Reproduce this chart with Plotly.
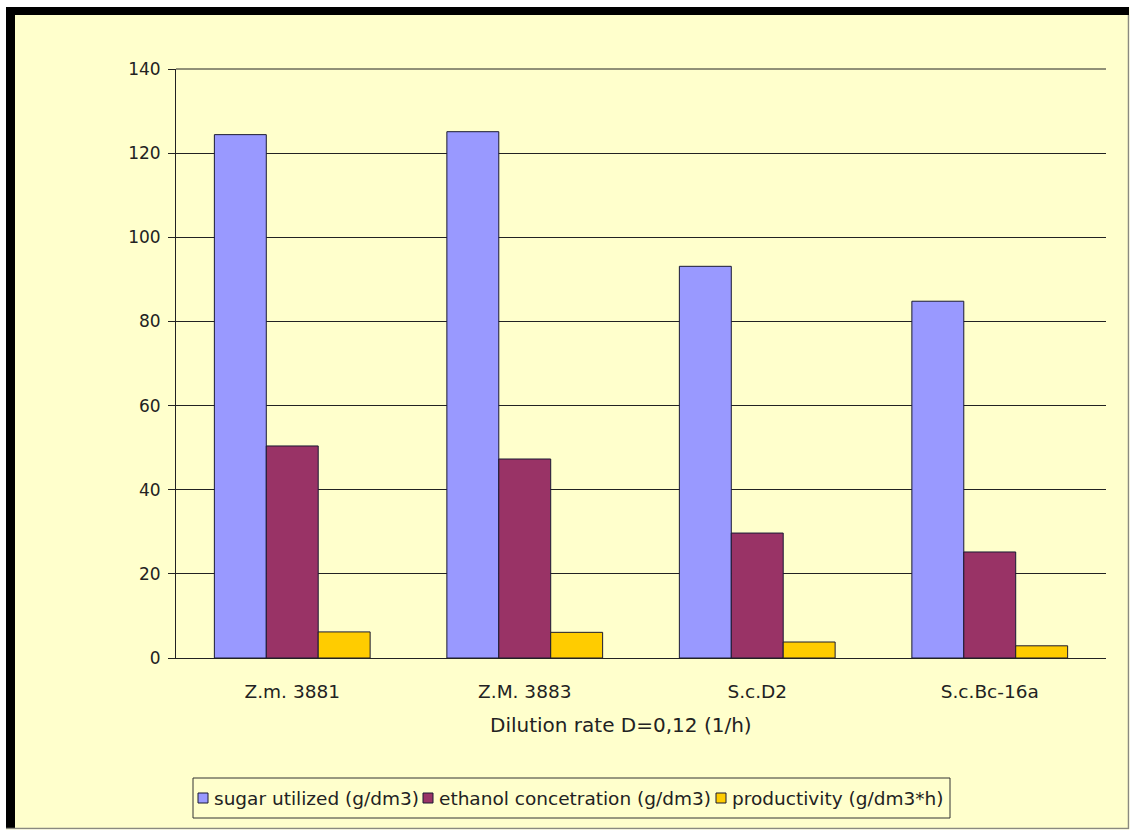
import plotly.graph_objects as go

# Strains tested at a dilution rate of 0.12 1/h
strains = ["Z.m. 3881", "Z.M. 3883", "S.c.D2", "S.c.Bc-16a"]
sugar_utilized = [124.4, 125.1, 93.1, 84.8]
ethanol_concentration = [50.4, 47.3, 29.7, 25.2]
productivity = [6.2, 6.1, 3.8, 2.9]
y_ticks = [0, 20, 40, 60, 80, 100, 120, 140]

series_names = ["sugar utilized (g/dm3)", "ethanol concetration (g/dm3)",
                "productivity (g/dm3*h)"]
series_colors = ["#9999FF", "#993366", "#FFCC00"]

BG = "#FFFFCC"
INK = "#222222"
FONT = "DejaVu Sans, Verdana, sans-serif"

# Plot area in pixels (figure is 1131 x 831)
W, H = 1131, 831
L, R, T, B = 176, 1106, 69, 658


def px(x):
    return (x - L) / (R - L)


def py(y):
    return (B - y) / (B - T)


fig = go.Figure()
for name, vals, color in zip(series_names,
                             [sugar_utilized, ethanol_concentration, productivity],
                             series_colors):
    fig.add_trace(go.Bar(
        x=strains, y=vals, name=name,
        marker=dict(color=color, line=dict(color="#1a1a33", width=1)),
    ))

# Outer frame: thick dark edge on top/left, thin grey edge on right/bottom
shapes = [
    dict(type="rect", xref="paper", yref="paper",
         x0=px(0), x1=px(W), y0=py(0), y1=py(7),
         fillcolor="white", line_width=0, layer="above"),
    dict(type="rect", xref="paper", yref="paper",
         x0=px(0), x1=px(6), y0=py(0), y1=py(H),
         fillcolor="white", line_width=0, layer="above"),
    dict(type="rect", xref="paper", yref="paper",
         x0=px(6), x1=px(1129), y0=py(7), y1=py(15),
         fillcolor="black", line_width=0, layer="above"),
    dict(type="rect", xref="paper", yref="paper",
         x0=px(6), x1=px(15), y0=py(7), y1=py(829),
         fillcolor="black", line_width=0, layer="above"),
    dict(type="line", xref="paper", yref="paper",
         x0=px(1128.5), x1=px(1128.5), y0=py(15), y1=py(829),
         line=dict(color="#8a8a80", width=1.5), layer="above"),
    dict(type="line", xref="paper", yref="paper",
         x0=px(6), x1=px(1129), y0=py(828.5), y1=py(828.5),
         line=dict(color="#8a8a80", width=1.5), layer="above"),
    dict(type="rect", xref="paper", yref="paper",
         x0=px(1129.5), x1=px(W), y0=py(0), y1=py(H),
         fillcolor="white", line_width=0, layer="above"),
    dict(type="rect", xref="paper", yref="paper",
         x0=px(0), x1=px(W), y0=py(829.5), y1=py(H),
         fillcolor="white", line_width=0, layer="above"),
    # top border of the plot area (140 gridline)
    dict(type="line", xref="paper", yref="paper", x0=0, x1=1, y0=1, y1=1,
         line=dict(color=INK, width=1)),
]

annotations = [dict(
    text="Dilution rate D=0,12 (1/h)", xref="paper", yref="paper",
    x=px(621), y=py(725), xanchor="center", yanchor="middle",
    showarrow=False, font=dict(family=FONT, size=20, color=INK),
)]

# Legend box below the chart, with small colour keys
legend_top, legend_bottom = 778, 818
legend_left, legend_right = 193, 950
shapes.append(dict(type="rect", xref="paper", yref="paper",
                   x0=px(legend_left), x1=px(legend_right),
                   y0=py(legend_bottom), y1=py(legend_top),
                   fillcolor=BG, line=dict(color="#333333", width=1)))
key_x = [198, 423, 716]
text_x = [212, 437, 730]
key_mid = 798
for kx, tx, name, color in zip(key_x, text_x, series_names, series_colors):
    shapes.append(dict(type="rect", xref="paper", yref="paper",
                       x0=px(kx), x1=px(kx + 10),
                       y0=py(key_mid + 5), y1=py(key_mid - 5),
                       fillcolor=color, line=dict(color="#1a1a33", width=1)))
    annotations.append(dict(
        text=name, xref="paper", yref="paper", x=px(tx), y=py(key_mid),
        xanchor="left", yanchor="middle", showarrow=False,
        font=dict(family=FONT, size=18.5, color=INK),
    ))

fig.update_layout(
    width=W, height=H,
    margin=dict(l=L, r=W - R, t=T, b=H - B, pad=0),
    paper_bgcolor=BG, plot_bgcolor=BG,
    font=dict(family=FONT, size=15, color=INK),
    barmode="group", bargap=0.33, bargroupgap=0,
    showlegend=False,
    shapes=shapes,
    annotations=annotations,
)

fig.update_xaxes(
    showline=True, linecolor=INK, linewidth=1,
    ticks="", showgrid=False, ticklabelstandoff=17,
    tickfont=dict(family=FONT, size=18.5, color=INK),
)
fig.update_yaxes(
    range=[0, 140], tickvals=y_ticks,
    showline=True, linecolor=INK, linewidth=1,
    ticks="outside", ticklen=7, tickcolor=INK,
    showgrid=True, gridcolor=INK, gridwidth=1,
    zeroline=False, ticklabelstandoff=4,
    tickfont=dict(family=FONT, size=17, color=INK),
)

fig.write_html("out.html")
